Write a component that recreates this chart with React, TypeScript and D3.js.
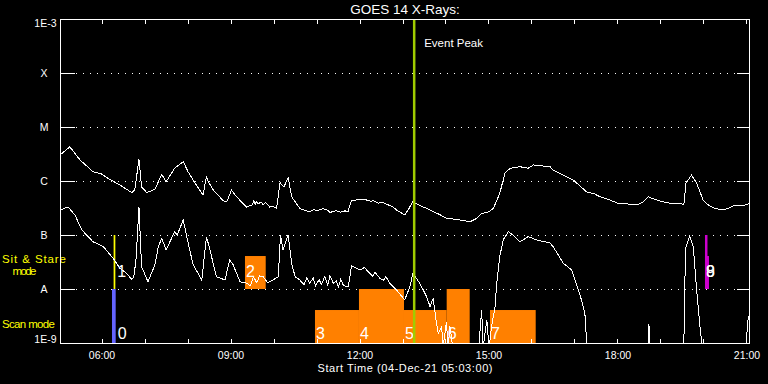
import React, { useEffect, useRef } from "react";
import * as d3 from "d3";

// flux levels on the y axis and their names
const fluxLevels = [1e-9, 1e-8, 1e-7, 1e-6, 1e-5, 1e-4, 1e-3];
const levelLabels = ["1E-9", "A", "B", "C", "M", "X", "1E-3"];

// hours (UT, 04-Dec-21)
const hourTicks = [6, 7, 8, 9, 10, 11, 12, 13, 14, 15, 16, 17, 18, 19, 20, 21];
const hourLabels = [6, 9, 12, 15, 18, 21];
const timeStart = 5.023;
const timeEnd = 21.07;

// 1-8 A channel [hour, W/m2]
const longChannel: [number, number][] = [
  [5.02, 3.0e-6], [5.25, 4.3e-6], [5.49, 2.45e-6], [5.79, 1.49e-6], [5.99, 1.35e-6],
  [6.18, 1.07e-6], [6.42, 8.4e-7], [6.69, 6.1e-7], [6.76, 6.8e-7], [6.86, 2.5e-6],
  [6.92, 7.8e-7], [7.04, 6.1e-7], [7.23, 7.0e-7], [7.31, 9.7e-7], [7.39, 1.33e-6],
  [7.49, 9.7e-7], [7.69, 1.72e-6], [7.89, 2.28e-6], [8.0, 1.49e-6], [8.12, 1.04e-6],
  [8.35, 5.5e-7], [8.43, 1.24e-6], [8.47, 9.7e-7], [8.59, 6.8e-7], [8.82, 4.3e-7],
  [8.9, 4.1e-7], [9.01, 6.8e-7], [9.13, 5.1e-7], [9.36, 3.3e-7], [9.5, 3.6e-7],
  [9.53, 4.3e-7], [9.56, 3.7e-7], [9.59, 4.1e-7], [9.64, 3.8e-7], [9.7, 4.1e-7],
  [9.75, 3.6e-7], [9.8, 4.0e-7], [9.9, 3.3e-7], [9.97, 3.4e-7], [10.06, 3.1e-7],
  [10.14, 9.3e-7], [10.23, 7.8e-7], [10.33, 1.15e-6], [10.41, 5.1e-7], [10.6, 3.1e-7],
  [10.7, 2.9e-7], [10.83, 2.7e-7], [10.93, 2.95e-7], [11.0, 2.8e-7], [11.14, 3.1e-7],
  [11.25, 2.85e-7], [11.3, 2.6e-7], [11.38, 2.75e-7], [11.45, 2.8e-7], [11.55, 2.65e-7],
  [11.65, 2.8e-7], [11.72, 2.7e-7], [11.8, 4.3e-7], [11.95, 4.5e-7], [12.15, 4.45e-7],
  [12.25, 4.2e-7], [12.3, 4.35e-7], [12.42, 3.9e-7], [12.52, 4.0e-7], [12.66, 3.6e-7],
  [12.75, 3.4e-7], [12.85, 2.9e-7], [13.04, 2.35e-7], [13.12, 2.9e-7], [13.22, 4.1e-7],
  [13.35, 3.7e-7], [13.47, 3.3e-7], [13.6, 3.0e-7], [13.7, 2.7e-7], [13.85, 2.4e-7],
  [14.01, 2.04e-7], [14.15, 2.0e-7], [14.2, 1.9e-7], [14.32, 1.9e-7], [14.4, 1.85e-7],
  [14.56, 1.76e-7], [14.7, 2.0e-7], [14.83, 2.5e-7], [15.0, 2.7e-7], [15.1, 3.1e-7],
  [15.25, 5.9e-7], [15.37, 1.39e-6], [15.49, 1.72e-6], [15.72, 1.84e-6], [15.91, 1.72e-6],
  [16.03, 1.98e-6], [16.25, 1.9e-6], [16.42, 1.84e-6], [16.49, 1.6e-6], [16.73, 1.29e-6],
  [16.96, 1.04e-6], [17.1, 8.3e-7], [17.27, 6.3e-7], [17.45, 5.8e-7], [17.58, 5.1e-7],
  [17.81, 4.45e-7], [17.95, 4.0e-7], [18.04, 3.75e-7], [18.2, 3.8e-7], [18.3, 3.6e-7],
  [18.43, 3.6e-7], [18.59, 4.1e-7], [18.7, 5.1e-7], [18.9, 4.45e-7], [19.13, 3.96e-7],
  [19.3, 3.8e-7], [19.44, 3.9e-7], [19.53, 3.6e-7], [19.58, 9.1e-7], [19.71, 1.29e-6],
  [19.83, 9.1e-7], [19.98, 4.45e-7], [20.1, 3.6e-7], [20.25, 3.1e-7], [20.45, 2.9e-7],
  [20.55, 3.1e-7], [20.68, 3.45e-7], [20.91, 3.45e-7], [21.07, 3.9e-7],
];

// 0.5-4 A channel [hour, W/m2]
const shortChannel: [number, number][] = [
  [5.02, 2.9e-7], [5.21, 3.3e-7], [5.37, 2.35e-7], [5.53, 1.24e-7], [5.79, 7.5e-8],
  [6.03, 6.1e-8], [6.26, 3.7e-8], [6.42, 2.4e-8], [6.57, 1.95e-8], [6.69, 1.51e-8],
  [6.74, 1.69e-8], [6.79, 3.44e-8], [6.86, 3.26e-7], [6.92, 2.6e-8], [7.07, 1.36e-8],
  [7.23, 2.8e-8], [7.31, 6.1e-8], [7.39, 8.7e-8], [7.49, 5.3e-8], [7.69, 1.15e-7],
  [7.75, 1.0e-7], [7.89, 1.9e-7], [7.97, 9.3e-8], [8.12, 2.8e-8], [8.32, 1.47e-8],
  [8.43, 9.3e-8], [8.51, 5.3e-8], [8.66, 1.69e-8], [8.86, 1.47e-8], [8.97, 3.44e-8],
  [9.05, 2.8e-8], [9.21, 1.36e-8], [9.36, 1.28e-8], [9.45, 1.15e-8], [9.52, 1.69e-8],
  [9.6, 1.3e-8], [9.66, 1.75e-8], [9.75, 1.69e-8], [9.85, 1.3e-8], [9.98, 1.47e-8],
  [10.1, 1.69e-8], [10.15, 1.0e-7], [10.21, 5.3e-8], [10.33, 1.0e-7], [10.41, 3.0e-8],
  [10.49, 1.69e-8], [10.6, 1.47e-8], [10.7, 1.2e-8], [10.76, 1.6e-8], [10.83, 1.28e-8],
  [10.91, 1.6e-8], [10.97, 1.15e-8], [11.05, 1.5e-8], [11.1, 1.2e-8], [11.18, 1.69e-8],
  [11.25, 1.2e-8], [11.3, 1.75e-8], [11.38, 1.28e-8], [11.45, 1.4e-8], [11.5, 1.1e-8],
  [11.55, 1.5e-8], [11.62, 1.15e-8], [11.73, 1.1e-8], [11.8, 2.67e-8], [12.0, 2.25e-8],
  [12.1, 2.5e-8], [12.23, 1.95e-8], [12.3, 1.7e-8], [12.35, 2.05e-8], [12.46, 1.58e-8],
  [12.55, 1.45e-8], [12.6, 1.7e-8], [12.69, 1.28e-8], [12.85, 9.6e-9], [13.04, 6.3e-9],
  [13.16, 1.1e-8], [13.23, 1.95e-8], [13.39, 1.28e-8], [13.55, 7.2e-9], [13.63, 4.7e-9],
  [13.7, 6.7e-9], [13.78, 2.3e-9], [13.82, 1.5e-9], [13.9, 2.0e-9], [13.93, 8e-10],
  [14.01, 2.45e-9], [14.05, 8e-10], [14.09, 2.07e-9], [14.16, 8e-10], [14.76, 8e-10],
  [14.83, 4.1e-9], [14.86, 8e-10], [14.95, 2.67e-9], [15.0, 8e-10], [15.06, 2.0e-9],
  [15.14, 4.7e-9], [15.18, 1.28e-8], [15.25, 3.96e-8], [15.33, 8.1e-8], [15.45, 1.15e-7],
  [15.56, 1.0e-7], [15.72, 7.5e-8], [15.91, 9.3e-8], [16.11, 8.1e-8], [16.42, 7.1e-8],
  [16.49, 6.1e-8], [16.73, 3.0e-8], [16.92, 2.25e-8], [17.04, 1.19e-8], [17.15, 6.3e-9],
  [17.23, 3.55e-9], [17.28, 8e-10], [18.7, 8e-10], [18.72, 2.2e-9], [18.74, 8e-10],
  [19.53, 8e-10], [19.57, 5.7e-8], [19.67, 9.6e-8], [19.75, 6.1e-8], [19.83, 9.6e-9],
  [19.9, 2.3e-9], [19.96, 8e-10], [20.97, 8e-10], [21.03, 3.07e-9], [21.07, 3.3e-9],
];

// observing events: mode row, start/end hour, flux reached in the row
const eventLabels = ["0", "1", "2", "3", "4", "5", "6", "7", "9", "8"];
const eventModes = ["scan", "stare", "stare", "scan", "scan", "scan", "scan", "scan", "stare", "stare"];
const eventStart = [6.232, 6.27, 9.325, 10.953, 11.976, 13.023, 14.016, 15.023, 20.023, 20.023];
const eventEnd = [6.318, 6.31, 9.807, 11.976, 13.023, 14.016, 14.551, 16.086, 20.116, 20.081];
const eventTop = [1e-8, 1e-7, 4.08e-8, 4.08e-9, 1e-8, 4.08e-9, 1e-8, 4.08e-9, 4.08e-8, 1e-7];
const eventColors = ["#6464ff", "#ffff00", "#ff8000", "#ff8000", "#ff8000", "#ff8000", "#ff8000", "#ff8000", "#cc00cc", "#cc00cc"];

const peakTime = 13.26;

export default function App() {
  const ref = useRef<SVGSVGElement>(null);

  useEffect(() => {
    const svg = d3.select(ref.current);
    svg.selectAll("*").remove();

    const margin = { top: 19, right: 18, bottom: 41, left: 60 };
    const width = 768, height = 384;
    const left = margin.left, right = width - margin.right;
    const top = margin.top, bottom = height - margin.bottom;
    const font = "Liberation Sans, Arial, sans-serif";

    const x = d3.scaleLinear().domain([timeStart, timeEnd]).range([left, right]);
    const y = d3.scaleLog().domain([1e-9, 1e-3]).range([bottom, top]);

    svg.append("rect").attr("width", width).attr("height", height).attr("fill", "#000");

    svg.append("clipPath").attr("id", "plot-clip")
      .append("rect").attr("x", left).attr("y", top).attr("width", right - left).attr("height", bottom - top);

    // dotted class lines + ticks
    const inner = fluxLevels.slice(1, -1);
    svg.selectAll(".grid").data(inner).enter().append("line")
      .attr("x1", left + 16).attr("x2", right - 13)
      .attr("y1", d => y(d) + 0.5).attr("y2", d => y(d) + 0.5)
      .attr("stroke", "#fff").attr("stroke-dasharray", "1,6").attr("shape-rendering", "crispEdges");
    svg.selectAll(".ytickl").data(inner).enter().append("line")
      .attr("x1", left).attr("x2", left + 15).attr("y1", d => y(d) + 0.5).attr("y2", d => y(d) + 0.5)
      .attr("stroke", "#fff").attr("shape-rendering", "crispEdges");
    svg.selectAll(".ytickr").data(inner).enter().append("line")
      .attr("x1", right - 13).attr("x2", right).attr("y1", d => y(d) + 0.5).attr("y2", d => y(d) + 0.5)
      .attr("stroke", "#fff").attr("shape-rendering", "crispEdges");

    // y labels
    svg.selectAll(".ylab").data(fluxLevels).enter().append("text")
      .attr("x", (d, i) => (i === 0 || i === 6 ? 56.5 : 44))
      .attr("y", (d, i) => (i === 0 ? y(d) : i === 6 ? y(d) + 8 : y(d) + 4.3))
      .attr("text-anchor", (d, i) => (i === 0 || i === 6 ? "end" : "middle"))
      .attr("fill", "#fff").attr("font-family", font).attr("font-size", 10.5)
      .text((d, i) => levelLabels[i]);

    // mode labels
    svg.append("text").attr("x", 2).attr("y", 263).attr("fill", "#ffff00")
      .attr("font-family", font).attr("font-size", 11.5).attr("textLength", 64).text("Sit & Stare");
    svg.append("text").attr("x", 12.5).attr("y", 275).attr("fill", "#ffff00")
      .attr("font-family", font).attr("font-size", 11.5).attr("textLength", 24).text("mode");
    svg.append("text").attr("x", 2).attr("y", 328).attr("fill", "#ffff00")
      .attr("font-family", font).attr("font-size", 11.5).attr("textLength", 53).text("Scan mode");

    // event boxes
    const events = eventLabels.map((label, i) => ({
      label, mode: eventModes[i], start: eventStart[i], end: eventEnd[i], top: eventTop[i], color: eventColors[i],
    }));
    const g = svg.append("g");
    g.selectAll("rect").data(events).enter().append("rect")
      .attr("x", d => x(d.start))
      .attr("width", d => Math.max(1.5, x(d.end) - x(d.start)))
      .attr("y", d => y(d.top))
      .attr("height", d => y(d.mode === "scan" ? 1e-9 : 1e-8) - y(d.top))
      .attr("fill", d => d.color);

    // curves
    const line = d3.line<[number, number]>().x(d => x(d[0])).y(d => y(d[1]));
    const curves = svg.append("g").attr("clip-path", "url(#plot-clip)");
    [longChannel, shortChannel].forEach(series => {
      curves.append("path").attr("d", line(series))
        .attr("fill", "none").attr("stroke", "#fff").attr("stroke-width", 1)
        .attr("shape-rendering", "crispEdges");
    });

    // event labels
    g.selectAll("text").data(events).enter().append("text")
      .attr("x", d => (x(d.end) - x(d.start) < 5 && d.start < 10 ? x(d.end) + 2 : x(d.start) + 1))
      .attr("y", d => (d.mode === "scan" ? 339 : 277))
      .attr("fill", "#fff").attr("font-family", font)
      .attr("font-size", 16)
      .text(d => d.label);

    // event peak
    svg.append("line").attr("x1", x(peakTime)).attr("x2", x(peakTime)).attr("y1", top).attr("y2", bottom)
      .attr("stroke", "#a0cc00").attr("stroke-width", 2.5);
    svg.append("text").attr("x", x(peakTime) + 10).attr("y", 47).attr("fill", "#fff")
      .attr("font-family", font).attr("font-size", 11.5).text("Event Peak");

    // frame
    svg.append("rect").attr("x", left + 0.5).attr("y", top + 0.5).attr("width", right - left - 1).attr("height", bottom - top)
      .attr("fill", "none").attr("stroke", "#fff").attr("shape-rendering", "crispEdges");

    // hour ticks
    svg.selectAll(".xt").data(hourTicks).enter().append("line")
      .attr("x1", d => x(d)).attr("x2", d => x(d)).attr("y1", top).attr("y2", top + 5)
      .attr("stroke", "#fff").attr("shape-rendering", "crispEdges");
    svg.selectAll(".xb").data(hourTicks).enter().append("line")
      .attr("x1", d => x(d)).attr("x2", d => x(d)).attr("y1", bottom).attr("y2", bottom - 4)
      .attr("stroke", "#fff").attr("shape-rendering", "crispEdges");
    svg.selectAll(".xl").data(hourLabels).enter().append("text")
      .attr("x", d => x(d)).attr("y", 359).attr("text-anchor", "middle")
      .attr("fill", "#fff").attr("font-family", font).attr("font-size", 10.5)
      .text(d => d3.format("02")(d) + ":00");

    svg.append("text").attr("x", (left + right) / 2).attr("y", 372).attr("text-anchor", "middle")
      .attr("fill", "#fff").attr("font-family", font).attr("font-size", 11).attr("textLength", 175)
      .text("Start Time (04-Dec-21 05:03:00)");

    svg.append("text").attr("x", (left + right) / 2).attr("y", 14).attr("text-anchor", "middle")
      .attr("fill", "#fff").attr("font-family", font).attr("font-size", 13.5)
      .text("GOES 14 X-Rays:");
  }, []);

  return (
    <div style={{ position: "fixed", left: 0, top: 0, width: 768, height: 384, background: "#000" }}>
      <svg ref={ref} width={768} height={384} style={{ display: "block" }} />
    </div>
  );
}
